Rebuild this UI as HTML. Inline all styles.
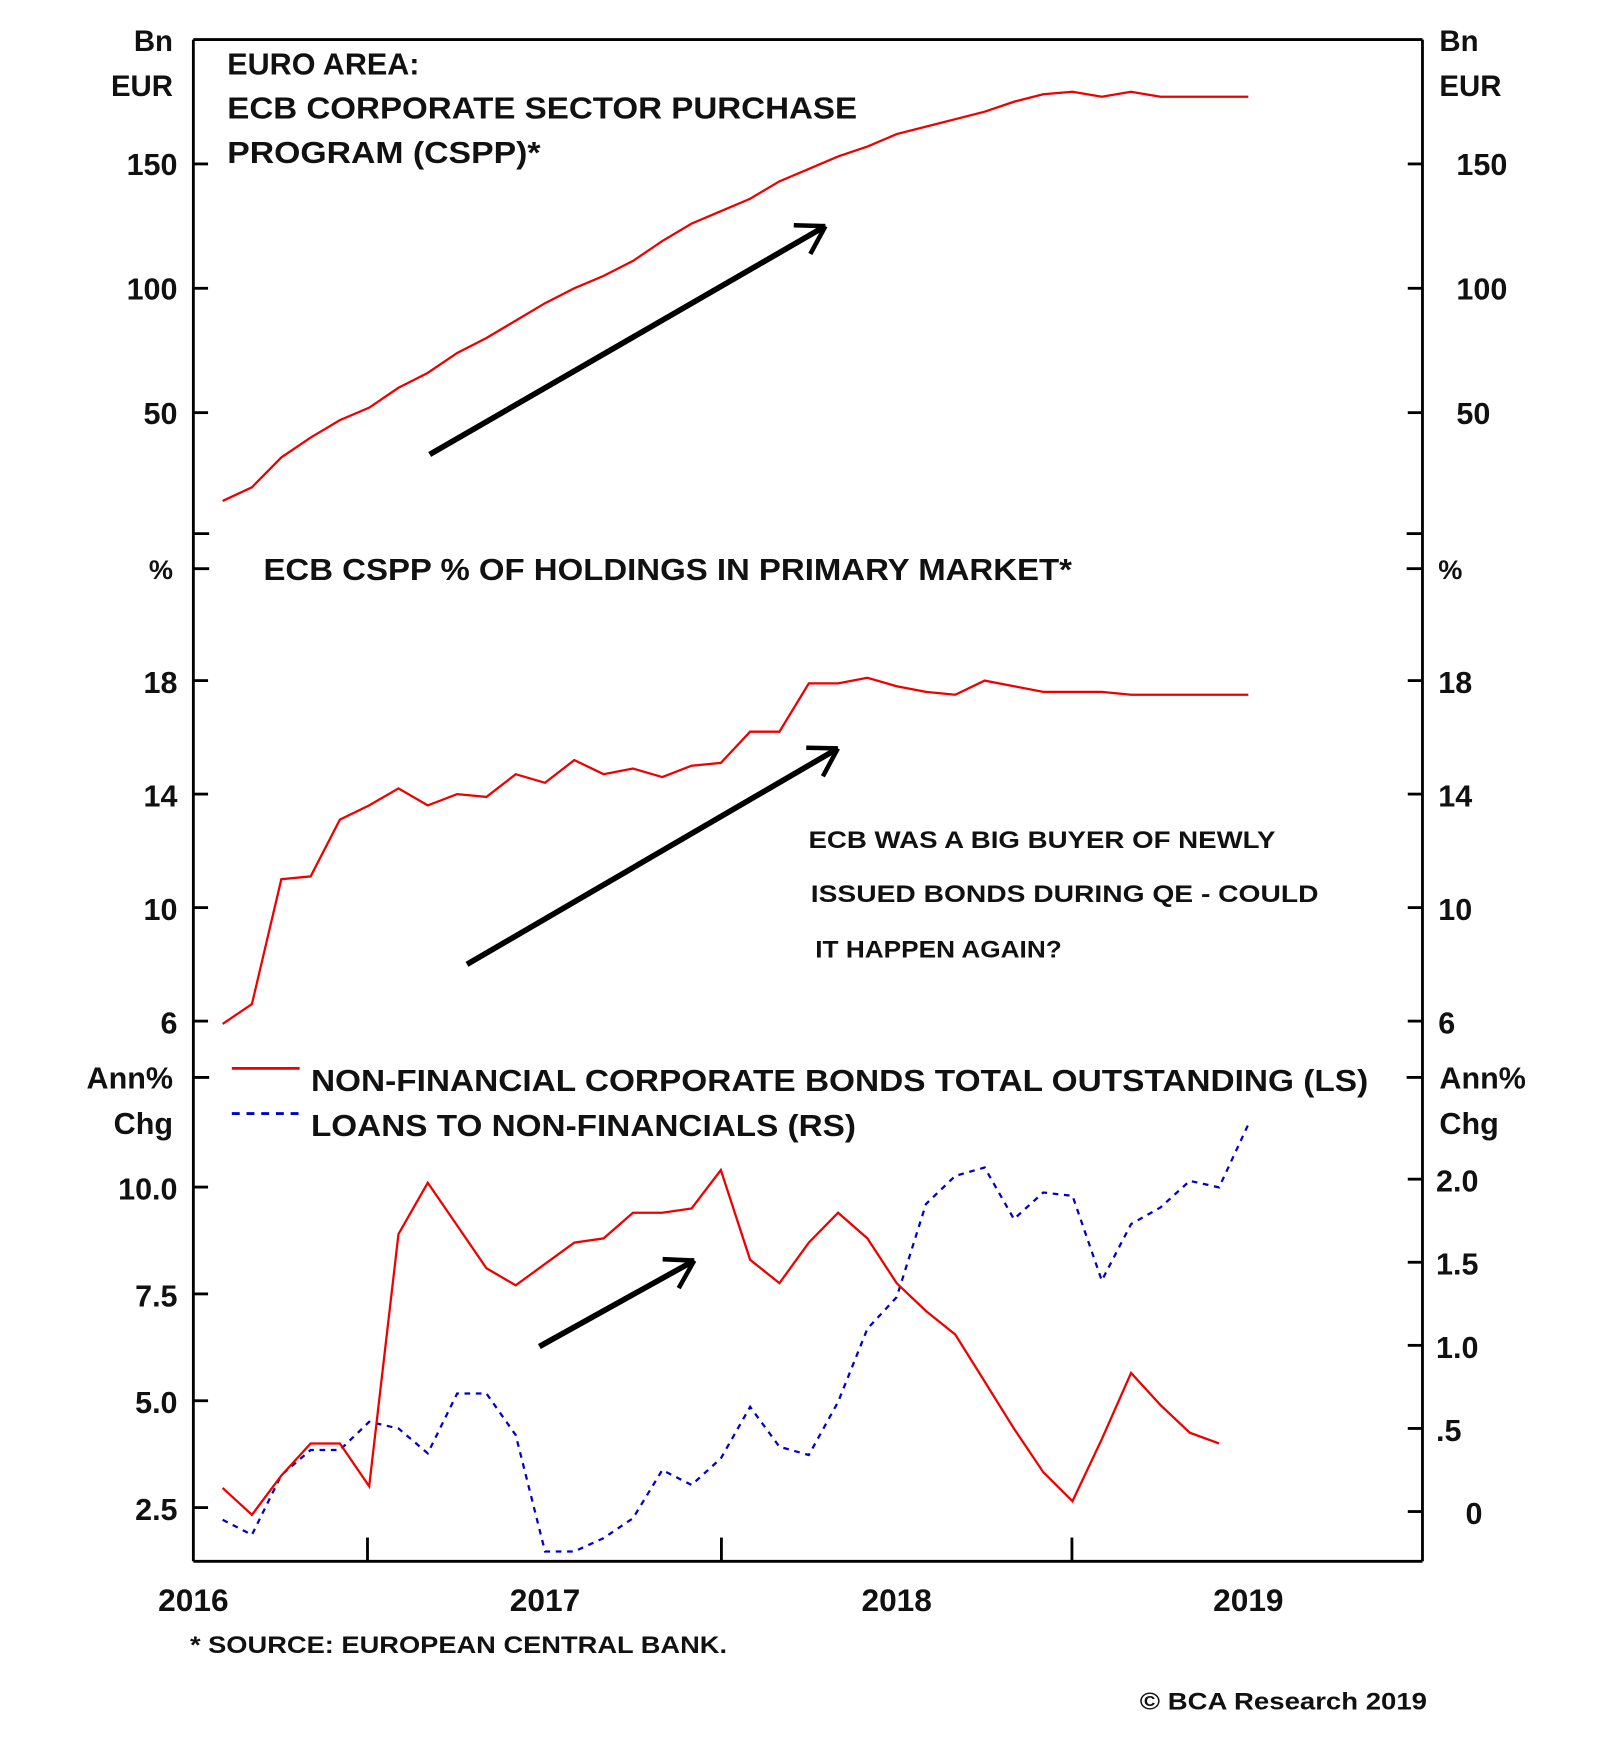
<!DOCTYPE html>
<html><head><meta charset="utf-8"><style>
html,body{margin:0;padding:0;background:#fff;}
svg{display:block;}
text{font-family:"Liberation Sans",sans-serif;font-weight:bold;fill:#111;}
</style></head><body>
<svg id="chart" width="1600" height="1758" viewBox="0 0 1415 1555" preserveAspectRatio="none" xmlns="http://www.w3.org/2000/svg"></svg>
<script>
// ---- data (monthly, starting Feb 2016) ----
const cspp = [14.5,20,32,40,47,52,60,66,74,80,87,94,100,105,111,119,126,131,136,143,148,153,157,162,165,168,171,175,178,179,177,179,177,177,177,177];
const primaryShare = [5.9,6.6,11.0,11.1,13.1,13.6,14.2,13.6,14.0,13.9,14.7,14.4,15.2,14.7,14.9,14.6,15.0,15.1,16.2,16.2,17.9,17.9,18.1,17.8,17.6,17.5,18.0,17.8,17.6,17.6,17.6,17.5,17.5,17.5,17.5,17.5];
const bonds = [2.96,2.33,3.25,4.0,4.0,3.0,8.9,10.1,9.1,8.1,7.7,8.2,8.7,8.8,9.4,9.4,9.5,10.4,8.3,7.75,8.7,9.4,8.8,7.75,7.1,6.55,5.45,4.35,3.33,2.65,4.1,5.65,4.9,4.25,4.0];
const loans = [-0.05,-0.14,0.22,0.37,0.37,0.54,0.50,0.35,0.71,0.71,0.46,-0.24,-0.24,-0.16,-0.04,0.25,0.16,0.32,0.63,0.39,0.34,0.66,1.10,1.29,1.85,2.02,2.07,1.76,1.92,1.90,1.39,1.73,1.83,1.99,1.95,2.33];
const years = ["2016","2017","2018","2019"];
const topTicks = [50,100,150];
const midTicks = [6,10,14,18];
const botLeftTicks = ["2.5","5.0","7.5","10.0"];
const botRightTicks = ["0",".5","1.0","1.5","2.0"];
const startT = 2016 + 1/12;

const svg = document.getElementById('chart');
const NS = 'http://www.w3.org/2000/svg';
function el(tag, attrs, txt){const e=document.createElementNS(NS,tag);for(const k in attrs)e.setAttribute(k,attrs[k]);if(txt!==undefined)e.textContent=txt;svg.appendChild(e);return e;}

const L=171,R=1258;
const xT = t => L + (t-2016)*311;
const xI = i => xT(startT + i/12);
const yTop = v => 475 - v*2.2;
const yMid = v => 602 + (18-v)*25.1;
const yBL = v => 1050 + (10-v)*37.8;
const yBR = v => 1337 - v*147;

function line(x1,y1,x2,y2,name,w){const e=el('line',{x1,y1,x2,y2,stroke:'#000','stroke-width':w||2.5});

return e;}
function txt(x,y,s,size,anchor,name,extra){const a=Object.assign({x,y,'font-size':size,'text-anchor':anchor||'start'},extra||{});const e=el('text',a,s);

return e;}

// frame
line(L,35,R,35,'top-border');
line(L,35,L,1381,'left-axis');
line(R,35,R,1381,'right-axis');
line(L,1381,R,1381,'x-axis');
[472,503,953].forEach(y=>{line(L,y,L+14,y,'panel-tick-left');line(R-14,y,R,y,'panel-tick-right');});
[325,638,948].forEach(x=>line(x,1360,x,1381,'x-tick'));

// top panel axes
topTicks.forEach(v=>{const y=yTop(v);line(L,y,L+13,y,'top-tick-left');line(R-13,y,R,y,'top-tick-right');
txt(157,y+10,String(v),27,'end','top-left-tick-label');txt(1288,y+10,String(v),27,'start','top-right-tick-label');});
txt(153,45,'Bn',26,'end','top-left-unit');txt(153,85,'EUR',26,'end','top-left-unit');
txt(1273,45,'Bn',26,'start','top-right-unit');txt(1273,85,'EUR',26,'start','top-right-unit');
txt(201,66,'EURO AREA:',27,'start','top-title');
txt(201,105,'ECB CORPORATE SECTOR PURCHASE',27,'start','top-title',{textLength:557,lengthAdjust:'spacingAndGlyphs'});
txt(201,144,'PROGRAM (CSPP)*',27,'start','top-title',{textLength:277,lengthAdjust:'spacingAndGlyphs'});

// mid panel axes
midTicks.forEach(v=>{const y=yMid(v);line(L,y,L+13,y,'mid-tick-left');line(R-13,y,R,y,'mid-tick-right');
txt(157,y+11,String(v),27,'end','mid-left-tick-label');txt(1272,y+11,String(v),27,'start','mid-right-tick-label');});
txt(153,512,'%',24,'end','mid-left-unit');txt(1272,512,'%',24,'start','mid-right-unit');
txt(233,513,'ECB CSPP % OF HOLDINGS IN PRIMARY MARKET*',27,'start','mid-title',{textLength:715,lengthAdjust:'spacingAndGlyphs'});
txt(715,750,'ECB WAS A BIG BUYER OF NEWLY',21,'start','annotation',{textLength:413,lengthAdjust:'spacingAndGlyphs'});
txt(717,798,'ISSUED BONDS DURING QE - COULD',21,'start','annotation',{textLength:449,lengthAdjust:'spacingAndGlyphs'});
txt(721,847,'IT HAPPEN AGAIN?',21,'start','annotation',{textLength:218,lengthAdjust:'spacingAndGlyphs'});

// bottom panel axes
botLeftTicks.forEach(s=>{const y=yBL(parseFloat(s));line(L,y,L+13,y,'bot-tick-left');txt(157,y+11,s,27,'end','bot-left-tick-label');});
botRightTicks.forEach(s=>{const y=yBR(parseFloat(s));line(R-13,y,R,y,'bot-tick-right');txt(s==='0'?1296:1270,y+11,s,27,'start','bot-right-tick-label');});
txt(153,963,'Ann%',27,'end','bot-left-unit');txt(153,1003,'Chg',27,'end','bot-left-unit');
txt(1273,963,'Ann%',27,'start','bot-right-unit');txt(1273,1003,'Chg',27,'start','bot-right-unit');
// legend
let lg=el('line',{x1:205,y1:945,x2:265,y2:945,stroke:'#e00','stroke-width':2.5});


txt(275,965,'NON-FINANCIAL CORPORATE BONDS TOTAL OUTSTANDING (LS)',27,'start','legend-bonds',{textLength:935,lengthAdjust:'spacingAndGlyphs'});
lg=el('line',{x1:205,y1:985,x2:265,y2:985,stroke:'#00c','stroke-width':2.5,'stroke-dasharray':'7,6'});


txt(275,1005,'LOANS TO NON-FINANCIALS (RS)',27,'start','legend-loans',{textLength:482,lengthAdjust:'spacingAndGlyphs'});

// x labels
years.forEach((s,i)=>txt(xT(2016+i),1425,s,28,'middle','x-tick-label'));
txt(168,1462,'* SOURCE: EUROPEAN CENTRAL BANK.',21,'start','source-note',{textLength:475,lengthAdjust:'spacingAndGlyphs'});
txt(1262,1512,'© BCA Research 2019',21,'end','copyright',{textLength:254,lengthAdjust:'spacingAndGlyphs'});

// series
function series(arr,yf,color,name,dash){const d=arr.map((v,i)=>(i?'L':'M')+xI(i).toFixed(1)+','+yf(v).toFixed(1)).join('');
const a={d,fill:'none',stroke:color,'stroke-width':2};if(dash)a['stroke-dasharray']=dash;const p=el('path',a);

}
series(cspp,yTop,'#e00','cspp-line');
series(primaryShare,yMid,'#e00','primary-share-line');
series(loans,yBR,'#00c','loans-line','5,5');
series(bonds,yBL,'#e00','bonds-line');

// arrows
function arrow(x1,y1,x2,y2,name){line(x1,y1,x2,y2,name,5);
const ang=Math.atan2(y2-y1,x2-x1),h=28;
[0.55,-0.55].forEach(o=>{const a=ang+Math.PI+o;const e=el('line',{x1:x2,y1:y2,x2:x2+h*Math.cos(a),y2:y2+h*Math.sin(a),stroke:'#000','stroke-width':4});

});}
arrow(380,402,730,200,'top-arrow');
arrow(413,853,741,662,'mid-arrow');
arrow(477,1191,614,1115,'bot-arrow');
</script>
</body></html>
